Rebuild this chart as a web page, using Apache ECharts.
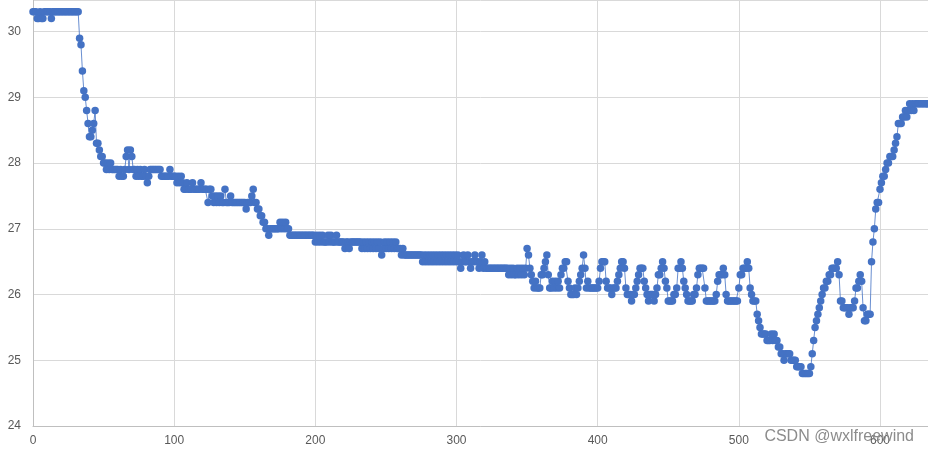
<!DOCTYPE html>
<html>
<head>
<meta charset="utf-8">
<script src="https://cdn.jsdelivr.net/npm/echarts@6/dist/echarts.min.js"></script>
<style>html,body{margin:0;padding:0;background:#fff}#c{width:928px;height:451px}</style>
</head>
<body>
<div id="c"></div>
<script>
// Series values, one per x index 0..634
const values = [
30.3,30.3,30.3,30.2,30.2,30.3,30.2,30.2,30.3,30.3,
30.3,30.3,30.3,30.2,30.3,30.3,30.3,30.3,30.3,30.3,
30.3,30.3,30.3,30.3,30.3,30.3,30.3,30.3,30.3,30.3,
30.3,30.3,30.3,29.9,29.8,29.4,29.1,29.0,28.8,28.6,
28.4,28.4,28.5,28.6,28.8,28.3,28.3,28.2,28.1,28.1,
28.0,28.0,27.9,28.0,27.9,28.0,27.9,27.9,27.9,27.9,
27.9,27.8,27.9,27.8,27.8,27.9,28.1,28.2,27.9,28.2,
28.1,27.9,27.9,27.8,27.9,27.8,27.9,27.8,27.8,27.9,
27.8,27.7,27.8,27.9,27.9,27.9,27.9,27.9,27.9,27.9,
27.9,27.8,27.8,27.8,27.8,27.8,27.8,27.9,27.8,27.8,
27.8,27.8,27.7,27.8,27.7,27.8,27.7,27.6,27.6,27.7,
27.6,27.6,27.6,27.7,27.6,27.6,27.6,27.6,27.6,27.7,
27.6,27.6,27.6,27.6,27.4,27.6,27.6,27.5,27.4,27.5,
27.4,27.5,27.4,27.5,27.4,27.4,27.6,27.4,27.4,27.4,
27.5,27.4,27.4,27.4,27.4,27.4,27.4,27.4,27.4,27.4,
27.4,27.3,27.4,27.4,27.4,27.5,27.6,27.4,27.4,27.3,
27.3,27.2,27.2,27.1,27.1,27.0,27.0,26.9,27.0,27.0,
27.0,27.0,27.0,27.0,27.0,27.1,27.0,27.1,27.0,27.1,
27.0,27.0,26.9,26.9,26.9,26.9,26.9,26.9,26.9,26.9,
26.9,26.9,26.9,26.9,26.9,26.9,26.9,26.9,26.9,26.9,
26.8,26.9,26.8,26.9,26.8,26.9,26.8,26.8,26.8,26.9,
26.8,26.9,26.8,26.8,26.8,26.9,26.8,26.8,26.8,26.8,
26.8,26.7,26.8,26.8,26.7,26.8,26.8,26.8,26.8,26.8,
26.8,26.8,26.8,26.7,26.8,26.7,26.8,26.7,26.8,26.7,
26.8,26.7,26.8,26.7,26.8,26.7,26.8,26.6,26.7,26.8,
26.7,26.8,26.7,26.8,26.7,26.8,26.7,26.8,26.7,26.7,
26.7,26.6,26.7,26.6,26.6,26.6,26.6,26.6,26.6,26.6,
26.6,26.6,26.6,26.6,26.6,26.6,26.5,26.6,26.5,26.6,
26.5,26.6,26.5,26.6,26.5,26.6,26.5,26.6,26.5,26.6,
26.5,26.6,26.5,26.6,26.5,26.6,26.5,26.6,26.5,26.6,
26.5,26.6,26.5,26.4,26.5,26.6,26.5,26.5,26.6,26.5,
26.4,26.5,26.5,26.6,26.5,26.5,26.4,26.5,26.6,26.4,
26.5,26.4,26.4,26.4,26.4,26.4,26.4,26.4,26.4,26.4,
26.4,26.4,26.4,26.4,26.4,26.4,26.4,26.3,26.4,26.3,
26.4,26.3,26.3,26.4,26.3,26.4,26.3,26.4,26.3,26.4,
26.7,26.6,26.4,26.3,26.2,26.1,26.2,26.1,26.1,26.1,
26.3,26.3,26.4,26.5,26.6,26.3,26.1,26.1,26.2,26.1,
26.2,26.1,26.2,26.1,26.3,26.4,26.4,26.5,26.5,26.2,
26.1,26.0,26.0,26.0,26.1,26.0,26.1,26.2,26.3,26.4,
26.6,26.4,26.1,26.2,26.1,26.1,26.1,26.1,26.1,26.1,
26.1,26.2,26.4,26.5,26.5,26.5,26.2,26.1,26.1,26.1,
26.0,26.1,26.1,26.1,26.2,26.3,26.4,26.5,26.5,26.4,
26.1,26.0,26.0,26.0,25.9,26.0,26.0,26.1,26.2,26.3,
26.4,26.4,26.4,26.2,26.1,26.0,25.9,26.0,26.0,26.0,
25.9,26.0,26.1,26.3,26.3,26.4,26.5,26.4,26.2,26.1,
25.9,25.9,25.9,25.9,26.0,26.0,26.1,26.4,26.4,26.5,
26.4,26.2,26.1,26.0,25.9,25.9,25.9,25.9,26.0,26.0,
26.1,26.3,26.4,26.4,26.4,26.4,26.1,25.9,25.9,25.9,
25.9,25.9,25.9,25.9,26.0,26.2,26.3,26.3,26.3,26.4,
26.3,26.0,25.9,25.9,25.9,25.9,25.9,25.9,25.9,25.9,
26.1,26.3,26.3,26.4,26.4,26.4,26.5,26.4,26.1,26.0,
25.9,25.9,25.9,25.7,25.6,25.5,25.4,25.4,25.4,25.4,
25.3,25.3,25.3,25.4,25.3,25.4,25.3,25.3,25.2,25.2,
25.1,25.1,25.0,25.1,25.1,25.1,25.1,25.0,25.0,25.0,
25.0,24.9,24.9,24.9,24.9,24.8,24.8,24.8,24.8,24.8,
24.8,24.9,25.1,25.3,25.5,25.6,25.7,25.8,25.9,26.0,
26.1,26.1,26.2,26.2,26.3,26.3,26.4,26.4,26.4,26.4,
26.5,26.3,25.9,25.9,25.8,25.8,25.8,25.8,25.7,25.8,
25.8,25.8,25.9,26.1,26.1,26.2,26.3,26.2,25.8,25.6,
25.6,25.7,25.7,25.7,26.5,26.8,27.0,27.3,27.4,27.4,
27.6,27.7,27.8,27.8,27.9,28.0,28.0,28.1,28.1,28.1,
28.2,28.3,28.4,28.6,28.6,28.6,28.7,28.7,28.8,28.7,
28.8,28.9,28.8,28.9,28.8,28.9,28.9,28.9,28.9,28.9,
28.9,28.9,28.9,28.9,28.9
];
// Axis settings (tick labels)
const xRange = [0, 634];
const xStep = 100;
const yRange = [24, 30.48];
const yStep = 1;
const watermark = 'CSDN @wxlfreewind';

const chart = echarts.init(document.getElementById('c'), null, {renderer: 'canvas'});
const labelStyle = {color: '#595959', fontSize: 12, fontFamily: 'Liberation Sans, Arial, sans-serif'};
chart.setOption({
  animation: false,
  backgroundColor: '#ffffff',
  grid: {left: 33, right: 0, top: 0, bottom: 25, containLabel: false},
  xAxis: {
    type: 'value', min: xRange[0], max: xRange[1], interval: xStep,
    axisLine: {show: true, lineStyle: {color: '#bfbfbf', width: 1}},
    axisTick: {show: false},
    axisLabel: Object.assign({margin: 9, showMaxLabel: false}, labelStyle),
    splitLine: {show: true, lineStyle: {color: '#d9d9d9', width: 1}}
  },
  yAxis: {
    type: 'value', min: yRange[0], max: yRange[1], interval: yStep,
    axisLine: {show: true, lineStyle: {color: '#bfbfbf', width: 1}},
    axisTick: {show: false},
    axisLabel: Object.assign({margin: 12, showMaxLabel: false}, labelStyle),
    splitLine: {show: true, lineStyle: {color: '#d9d9d9', width: 1}}
  },
  series: [{
    type: 'line',
    data: values.map((v, i) => [i, v]),
    symbol: 'circle',
    symbolSize: 7.5,
    showAllSymbol: true,
    itemStyle: {color: '#4472c4'},
    lineStyle: {color: '#4472c4', width: 1, opacity: 0.8},
    clip: false
  }],
  graphic: [{
    type: 'text', right: 14, bottom: 6, z: 100,
    style: {text: watermark, fill: '#8c8c8c', font: '16px "Liberation Sans", Arial, sans-serif'}
  }]
});
</script>
</body>
</html>
